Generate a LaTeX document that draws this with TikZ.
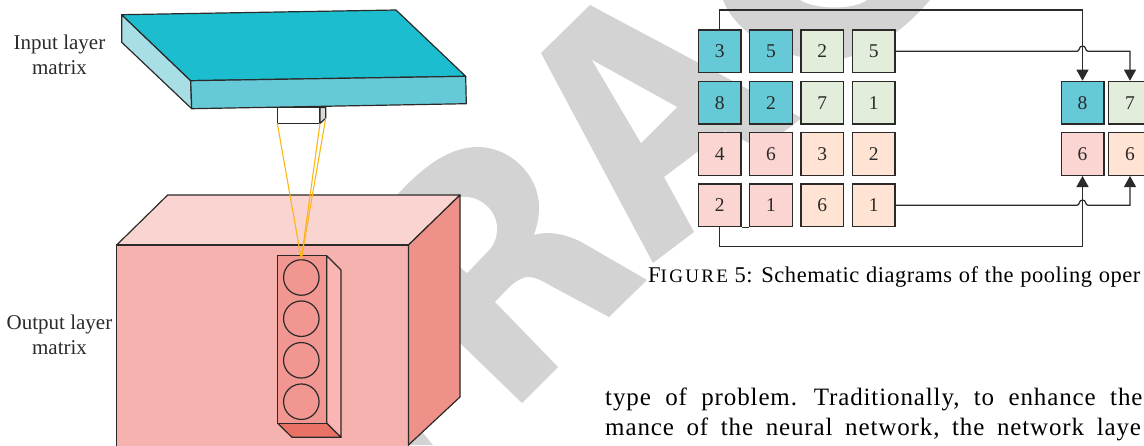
\documentclass[tikz,border=0pt]{standalone}
\usepackage{fontspec}
\setmainfont{Liberation Serif}
\newfontfamily\bodyf[LetterSpace=3.5]{Liberation Serif}
\newfontfamily\capf[LetterSpace=2.3,WordSpace=1.1]{Liberation Serif}
\newfontfamily\scf[LetterSpace=12]{Liberation Serif}
\usetikzlibrary{arrows.meta}
\definecolor{wm}{HTML}{D3D3D3}
\definecolor{ink}{HTML}{2B2A29}
\definecolor{tealtop}{HTML}{1BBDCE}
\definecolor{tealfront}{HTML}{66C9D8}
\definecolor{tealside}{HTML}{A8DFE7}
\definecolor{pinktop}{HTML}{FAD4D1}
\definecolor{pinkfront}{HTML}{F5B2AF}
\definecolor{pinkside}{HTML}{ED9189}
\definecolor{colfront}{HTML}{F29691}
\definecolor{colside}{HTML}{FBB5B2}
\definecolor{colbot}{HTML}{E87265}
\definecolor{tgreen}{HTML}{E2EDDB}
\definecolor{tpink}{HTML}{FBD5D2}
\definecolor{tpeach}{HTML}{FFE3D3}
\definecolor{ray}{HTML}{FDB515}
\tikzset{
  face/.style={draw=ink,line width=1.2pt,line join=round},
  tile/.style={draw=ink,line width=1.4pt,minimum size=42.6pt,inner sep=0pt,font=\fontsize{19.5}{19.5}\selectfont,text=ink},
  ball/.style={circle,draw=ink,line width=1.2pt,minimum size=35.5pt,inner sep=0pt},
  conn/.style={draw=ink,line width=1.2pt},
  arr/.style={conn,-{Triangle[length=11pt,width=12pt]}},
  rayline/.style={draw=ray,line width=1.1pt},
  lab/.style={align=center,text=ink,font=\fontsize{21}{25}\selectfont,inner sep=0pt},
  body/.style={anchor=base west,inner sep=0pt,text=black}
}
\begin{document}
\begin{tikzpicture}[x=1pt,y=-1pt]
\useasboundingbox (0,0) rectangle (1144,445);
% watermark
\fill[wm] (590,5) -- (802,118) -- (761,149) -- (725,131) -- (664,177) -- (694,232) -- (653,263) -- (541,53) -- cycle;
\fill[white] (592,60) -- (677,107) -- (641,143) -- cycle;
\fill[wm] (723,0) .. controls (735,30) and (770,55) .. (820,60) .. controls (860,63) and (900,35) .. (930,0) -- (867,0) .. controls (855,10) and (815,10) .. (800,0) -- cycle;
\fill[wm] (399,193) .. controls (425,165) and (450,147) .. (478,147) .. controls (510,147) and (539,175) .. (539,207) .. controls (539,218) and (537,226) .. (534,235) .. controls (545,231) and (565,233) .. (583,243) -- (647,280) -- (609,317) -- (553,287) .. controls (540,279) and (530,275) .. (523,278) .. controls (512,282) and (503,294) .. (495,302) -- (558,367) -- (522,403) -- (460,343) -- (410,345) -- (410,433) -- (423,433) -- (433,445) -- (400,445) -- (300,300) -- cycle;
\fill[white] (465,197) .. controls (482,197) and (497,212) .. (497,228) .. controls (497,238) and (494,244) .. (490,249) -- (467,273) -- (440,250) -- (440,197) -- cycle;
% input layer
\filldraw[face,fill=tealside] (121.7,14.7) -- (190.7,80.7) -- (191.7,108.7) -- (121.7,42.3) -- cycle;
\filldraw[face,fill=tealtop] (121.7,14.7) -- (396,10) -- (465.7,76.3) -- (190.7,80.7) -- cycle;
\filldraw[face,fill=tealfront] (190.7,80.7) -- (465.7,76.3) -- (466.3,103.7) -- (191.7,108.7) -- cycle;
\filldraw[face,fill=white] (277.3,107.7) rectangle (320,123.3);
\filldraw[face,fill=white!85!black] (320,107.7) -- (325.7,107.3) -- (325.7,118.3) -- (320,123.3) -- cycle;
\coordinate (wa) at (277.3,123.3);
\coordinate (wb) at (320,123.3);
\coordinate (wc) at (325.7,118.3);
% output layer
\filldraw[face,fill=pinktop] (167.7,195) -- (460,195) -- (408.5,245) -- (116.7,245) -- cycle;
\filldraw[face,fill=pinkfront] (116.7,245) rectangle (408.5,447);
\filldraw[face,fill=pinkside] (408.5,245) -- (460,195) -- (460,397) -- (408.5,445) -- cycle;
\filldraw[face,fill=colside] (326.7,255.7) -- (341,270) -- (341,437.3) -- (326.7,423.3) -- cycle;
\filldraw[face,fill=colbot] (277.7,423.3) -- (326.7,423.3) -- (341,437.3) -- (292,437.3) -- cycle;
\filldraw[face,fill=colfront] (277.7,255.7) rectangle (326.7,423.3);
\node[ball] (c1) at (301.3,277.5) {};
\node[ball] (c2) at (301.3,318.7) {};
\node[ball] (c3) at (301.3,360.3) {};
\node[ball] (c4) at (301.3,401.7) {};
\draw[rayline] (wa) -- (c1.north);
\draw[rayline] (wb) -- (c1.north);
\draw[rayline] (wc) -- (c1.north);
% labels
\node[lab] (inlab) at (59.5,55) {Input layer\\matrix};
\node[lab] (outlab) at (59.5,334.5) {Output layer\\matrix};
% tiles
\node[tile,fill=tealfront] (a1) at (719.7,51.3) {3};
\node[tile,fill=tealfront] (a2) at (771,51.3) {5};
\node[tile,fill=tgreen] (a3) at (822.3,51.3) {2};
\node[tile,fill=tgreen] (a4) at (873.7,51.3) {5};
\node[tile,fill=tealfront] (b1) at (719.7,102.7) {8};
\node[tile,fill=tealfront] (b2) at (771,102.7) {2};
\node[tile,fill=tgreen] (b3) at (822.3,102.7) {7};
\node[tile,fill=tgreen] (b4) at (873.7,102.7) {1};
\node[tile,fill=tpink] (c1t) at (719.7,154) {4};
\node[tile,fill=tpink] (c2t) at (771,154) {6};
\node[tile,fill=tpeach] (c3t) at (822.3,154) {3};
\node[tile,fill=tpeach] (c4t) at (873.7,154) {2};
\node[tile,fill=tpink] (d1) at (719.7,205.3) {2};
\node[tile,fill=tpink] (d2) at (771,205.3) {1};
\node[tile,fill=tpeach] (d3) at (822.3,205.3) {6};
\node[tile,fill=tpeach] (d4) at (873.7,205.3) {1};
\node[tile,fill=tealfront] (p1) at (1082.5,102.7) {8};
\node[tile,fill=tgreen] (p2) at (1130,102.7) {7};
\node[tile,fill=tpink] (q1) at (1082.5,154) {6};
\node[tile,fill=tpeach] (q2) at (1130,154) {6};
% connectors
\draw[conn] (d1.south east) -- (d2.south west);
\draw[arr] (a1.north) -- (719.7,10) -| (p1.north);
\draw[arr] (d1.south) -- (719.7,246.7) -| (q1.south);
\coordinate (h1) at (1077,51.3);
\coordinate (h2) at (1088,51.3);
\coordinate (h3) at (1077,205.3);
\coordinate (h4) at (1088,205.3);
\draw[arr] (a4.east) -- (h1) .. controls (1080,51.3) and (1078.5,46) .. (1082.5,46) .. controls (1086.5,46) and (1085,51.3) .. (h2) -| (p2.north);
\draw[arr] (d4.east) -- (h3) .. controls (1080,205.3) and (1078.5,200) .. (1082.5,200) .. controls (1086.5,200) and (1085,205.3) .. (h4) -| (q2.south);
% text
\node[body] (cap) at (648,282) {\fontsize{22.5}{26}\selectfont\capf F{\scf\fontsize{19}{26}\selectfont IGURE} 5: Schematic diagrams of the pooling oper};
\node[body] (l1) at (605,405) {\fontsize{25}{30}\selectfont\bodyf\spaceskip=14.4pt type of problem. Traditionally, to enhance the};
\node[body] (l2) at (605,435) {\fontsize{25}{30}\selectfont\bodyf\spaceskip=12.6pt mance of the neural network, the network laye};
\end{tikzpicture}
\end{document}
